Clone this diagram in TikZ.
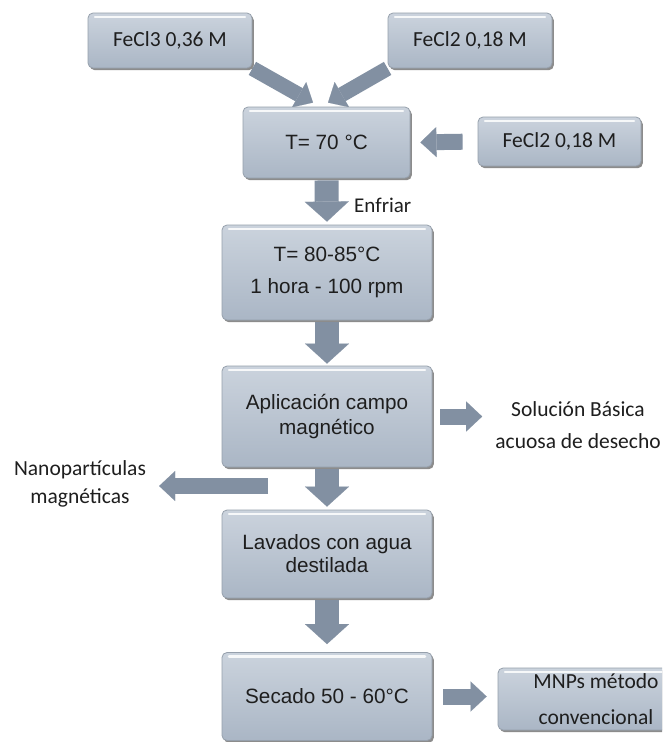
\documentclass[tikz,border=0pt]{standalone}
\usepackage{fontspec}
\newfontfamily\calfont{Carlito}
\newfontfamily\arifont{Liberation Sans}
\usetikzlibrary{arrows.meta,shadows,backgrounds}
\definecolor{boxtop}{RGB}{203,211,221}
\definecolor{boxbot}{RGB}{170,182,197}
\definecolor{boxedge}{RGB}{150,160,172}
\definecolor{arrcol}{RGB}{130,144,162}
\definecolor{txt}{RGB}{30,30,30}
\begin{document}
\begin{tikzpicture}[x=1pt,y=-1pt,
  box/.style={rectangle, rounded corners=5pt, top color=boxtop, bottom color=boxbot,
    draw=boxedge, line width=0.8pt, text=txt, align=center, inner sep=0pt,
    drop shadow={shadow xshift=1.8pt, shadow yshift=-2.2pt, fill=black!60, opacity=0.75},
    path picture={\draw[white, line width=2.5pt, opacity=0.85, line cap=round]
      ([xshift=7pt,yshift=-4pt]path picture bounding box.north west) --
      ([xshift=-7pt,yshift=-4pt]path picture bounding box.north east);}},
  calbox/.style={box, font=\calfont\fontsize{21.5}{25}\selectfont},
  aribox/.style={box, font=\arifont\fontsize{20.7}{25}\selectfont},
  lbl/.style={text=txt, align=center, inner sep=0pt, font=\calfont\fontsize{21}{30}\selectfont},
  barrow/.style={draw=arrcol, line width=24pt, -{Triangle[length=20pt,width=44pt,line width=0.1pt]}},
  sarrow/.style={draw=arrcol, line width=16pt, -{Triangle[length=16pt,width=30pt,line width=0.1pt]}},
]
\clip (0,0) rectangle (662,742);

% boxes
\node[calbox, minimum width=164pt, minimum height=55pt] (fe3) at (170,40.5) {FeCl3 0,36 M};
\node[calbox, minimum width=164pt, minimum height=55pt] (fe2a) at (470,40.5) {FeCl2 0,18 M};
\node[aribox, minimum width=167pt, minimum height=71pt] (t70) at (326.5,142.5) {T= 70 °C};
\node[calbox, minimum width=163pt, minimum height=49pt] (fe2b) at (559.5,141.5) {FeCl2 0,18 M};
\node[aribox, minimum width=210pt, minimum height=95pt] (t80) at (327,272.5) {T= 80-85°C\\[7pt]1 hora - 100 rpm};
\node[aribox, minimum width=210pt, minimum height=101pt] (apl) at (327,416.5) {Aplicación campo\\magnético};
\node[aribox, minimum width=210pt, minimum height=88pt, font=\arifont\fontsize{20.7}{23}\selectfont] (lav) at (327,554) {Lavados con agua\\destilada};
\node[aribox, minimum width=210pt, minimum height=88pt] (sec) at (327,696.5) {Secado 50 - 60°C};
\node[calbox, minimum width=196pt, minimum height=62pt, font=\calfont\fontsize{21.5}{36}\selectfont] (mnp) at (596,699) {MNPs método\\convencional};

% labels
\node[lbl, anchor=west] (enf) at (354,205) {Enfriar};
\node[lbl, font=\calfont\fontsize{21.5}{32}\selectfont] (sol) at (578,425) {Solución Básica\\acuosa de desecho};
\node[lbl, font=\calfont\fontsize{21.5}{28}\selectfont] (nano) at (80,484) {Nanopartículas\\magnéticas};
\coordinate (nstart) at (268,486);

% arrows
\begin{scope}[on background layer]
\fill[white] (0,0) rectangle (662,742);
\draw[draw=arrcol, line width=15pt, -{Triangle[length=16pt,width=29pt,line width=0.1pt]}]
  (fe3.south east) -- ([xshift=-13.5pt,yshift=4pt]t70.north);
\draw[draw=arrcol, line width=15pt, -{Triangle[length=16pt,width=29pt,line width=0.1pt]}]
  (fe2a.south west) -- ([xshift=1.5pt,yshift=4pt]t70.north);
\end{scope}
\draw[sarrow, shorten <=15pt, shorten >=10pt] (fe2b.west) -- (t70.east);
\draw[barrow, shorten <=2pt, shorten >=3pt] (t70.south) -- (t80.north);
\draw[barrow, shorten <=2pt, shorten >=2pt] (t80.south) -- (apl.north);
\draw[barrow, shorten <=2pt, shorten >=3pt] (apl.south) -- (lav.north);
\draw[barrow, shorten <=2pt, shorten >=8pt] (lav.south) -- (sec.north);
\draw[sarrow, shorten <=8pt, shorten >=13pt] (apl.east) -- (apl.east -| sol.west);
\draw[sarrow, shorten >=13pt] (nstart) -- (nstart -| nano.east);
\draw[sarrow, shorten <=11pt, shorten >=11pt] (sec.east) -- (sec.east -| mnp.west);
\end{tikzpicture}
\end{document}
